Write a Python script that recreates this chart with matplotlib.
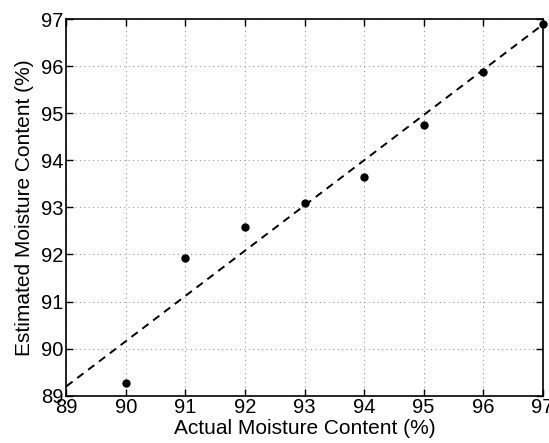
import matplotlib
matplotlib.use("Agg")
import matplotlib.pyplot as plt

actual = [90, 91, 92, 93, 94, 95, 96, 97]
estimated = [89.27, 91.92, 92.59, 93.09, 93.65, 94.74, 95.88, 96.89]
fit_x = [89, 97]
fit_y = [89.2, 96.88]
ticks = [89, 90, 91, 92, 93, 94, 95, 96, 97]

plt.rcParams['font.family'] = ['Liberation Sans', 'DejaVu Sans']
fig = plt.figure(figsize=(5.49, 4.43), dpi=100)
ax = fig.add_axes([0.121, 0.1068, 0.8675, 0.8503])

ax.plot(fit_x, fit_y, '--', color='black', linewidth=1.4, dashes=(4, 3), zorder=3)
ax.plot(actual, estimated, 'o', color='black', markersize=5, zorder=4, clip_on=False)

ax.set_xlim(89, 97)
ax.set_ylim(89, 97)
ax.set_xticks(ticks)
ax.set_yticks(ticks)
ax.set_xticklabels([str(t) for t in ticks])
ax.set_yticklabels([str(t) for t in ticks])
ax.tick_params(direction='in', top=True, right=True, labelsize=14.5, length=5, width=1, pad=2)
ax.grid(True, linestyle=(0, (1, 3)), color='#999999', linewidth=0.8)
for s in ax.spines.values():
    s.set_linewidth(1.2)
ax.set_xlabel('Actual Moisture Content (%)', fontsize=15, labelpad=1)
ax.set_ylabel('Estimated Moisture Content (%)', fontsize=15, labelpad=5)

fig.savefig('out.png', dpi=100)
